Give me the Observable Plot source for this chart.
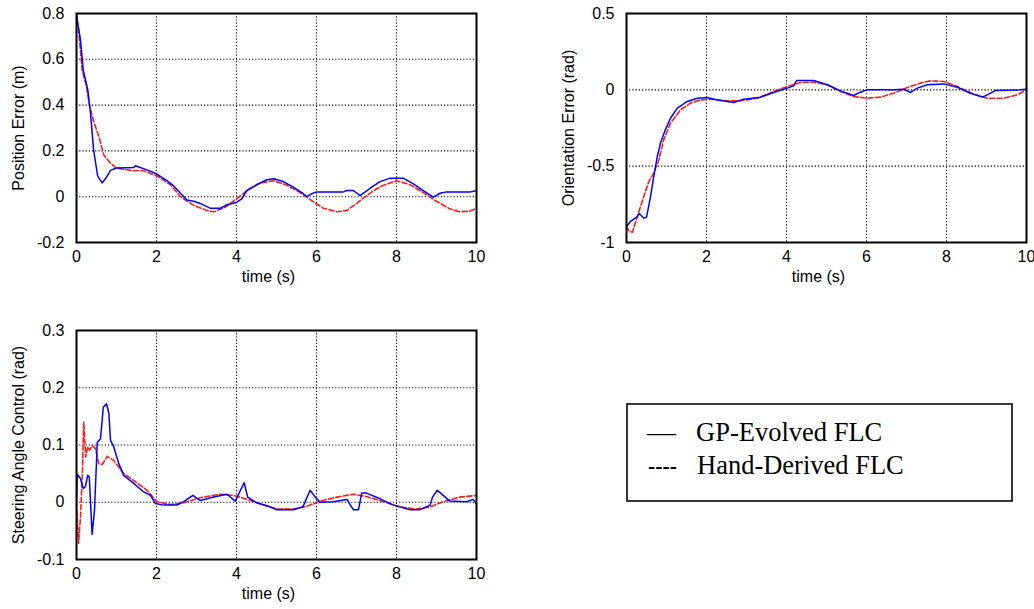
<!DOCTYPE html>
<html>
<head>
<meta charset="utf-8">
<script src="https://cdn.jsdelivr.net/npm/d3@7"></script>
<script src="https://cdn.jsdelivr.net/npm/@observablehq/plot@0.6"></script>
<style>
  html, body { margin: 0; padding: 0; background: #fff; }
  #wrap { position: relative; width: 1034px; height: 609px; overflow: hidden; }
  .panel { position: absolute; }
  .panel svg { display: block; }
</style>
</head>
<body>
<div id="wrap">
  <div class="panel" id="p1" style="left:0px;top:0px"></div>
  <div class="panel" id="p2" style="left:540px;top:0px"></div>
  <div class="panel" id="p3" style="left:0px;top:310px"></div>
  <svg class="panel" id="legend" style="left:620px;top:398px" width="400" height="110"></svg>
</div>
<script>
// ---------- data (time in s, value) ----------
const timeTicks = [0, 2, 4, 6, 8, 10];

const posTicks = [-0.2, 0, 0.2, 0.4, 0.6, 0.8];
const posGP = [[0,0.79],[0.1,0.685],[0.17,0.55],[0.28,0.47],[0.35,0.365],[0.43,0.2],[0.53,0.09],[0.64,0.06],[0.75,0.085],[0.85,0.115],[1.0,0.125],[1.43,0.127],[1.47,0.135],[1.76,0.117],[2.0,0.1],[2.26,0.07],[2.43,0.047],[2.6,0.015],[2.76,-0.014],[2.93,-0.02],[3.1,-0.03],[3.34,-0.05],[3.6,-0.05],[3.76,-0.035],[4.0,-0.025],[4.13,-0.01],[4.26,0.027],[4.5,0.052],[4.76,0.074],[4.93,0.078],[5.17,0.066],[5.42,0.042],[5.67,0.013],[5.76,0.0],[5.88,0.013],[6.0,0.021],[6.67,0.021],[6.76,0.027],[6.92,0.027],[7.09,0.005],[7.21,0.02],[7.34,0.037],[7.59,0.066],[7.84,0.081],[8.17,0.081],[8.42,0.056],[8.67,0.027],[8.92,-0.002],[9.09,0.015],[9.25,0.021],[9.83,0.021],[10,0.026]];
const posHD = [[0,0.8],[0.06,0.714],[0.14,0.554],[0.25,0.48],[0.33,0.394],[0.43,0.328],[0.56,0.263],[0.68,0.183],[0.85,0.146],[1.0,0.125],[1.43,0.113],[1.68,0.113],[2.0,0.092],[2.35,0.052],[2.6,0.0],[2.93,-0.038],[3.26,-0.06],[3.43,-0.066],[3.68,-0.05],[4.0,-0.01],[4.26,0.027],[4.59,0.06],[4.93,0.07],[5.26,0.05],[5.59,0.018],[5.92,-0.022],[6.17,-0.05],[6.5,-0.066],[6.76,-0.06],[7.0,-0.03],[7.25,0.005],[7.59,0.044],[8.0,0.07],[8.34,0.052],[8.67,0.018],[9.0,-0.02],[9.33,-0.053],[9.58,-0.066],[9.83,-0.063],[10,-0.05]];

const oriTicks = [-1, -0.5, 0, 0.5];
const oriGP = [[0,-0.895],[0.1,-0.862],[0.27,-0.83],[0.32,-0.81],[0.39,-0.83],[0.43,-0.84],[0.5,-0.835],[0.6,-0.7],[0.68,-0.57],[0.77,-0.437],[0.85,-0.35],[0.97,-0.262],[1.1,-0.186],[1.27,-0.12],[1.52,-0.076],[1.77,-0.055],[2.02,-0.05],[2.27,-0.066],[2.68,-0.083],[2.93,-0.061],[3.35,-0.048],[3.68,-0.017],[4.02,0.011],[4.18,0.026],[4.25,0.061],[4.68,0.061],[5.02,0.033],[5.35,-0.007],[5.68,-0.037],[5.83,-0.017],[6.02,0],[6.68,0],[6.93,0.004],[7.1,-0.017],[7.27,0.011],[7.52,0.033],[7.93,0.039],[8.27,0.017],[8.6,-0.022],[8.9,-0.048],[9.02,-0.033],[9.23,-0.004],[9.85,0],[10,0.004]];
const oriHD = [[0,-0.895],[0.07,-0.928],[0.15,-0.932],[0.27,-0.83],[0.43,-0.7],[0.56,-0.6],[0.68,-0.546],[0.81,-0.458],[0.93,-0.328],[1.1,-0.218],[1.35,-0.131],[1.6,-0.087],[1.85,-0.066],[2.1,-0.061],[2.52,-0.072],[2.85,-0.072],[3.27,-0.055],[3.68,-0.011],[4.02,0.022],[4.35,0.048],[4.68,0.05],[5.02,0.033],[5.35,-0.011],[5.68,-0.044],[6.02,-0.055],[6.35,-0.048],[6.68,-0.022],[7.02,0.015],[7.35,0.044],[7.6,0.059],[7.93,0.055],[8.27,0.022],[8.68,-0.028],[9.02,-0.055],[9.43,-0.055],[9.77,-0.033],[10,0]];

const steerTicks = [-0.1, 0, 0.1, 0.2, 0.3];
const steerGP = [[0,0],[0.02,0.049],[0.1,0.041],[0.17,0.024],[0.22,0.027],[0.28,0.047],[0.32,0.044],[0.39,-0.056],[0.45,-0.014],[0.52,0.105],[0.6,0.111],[0.67,0.166],[0.75,0.172],[0.81,0.155],[0.85,0.108],[0.93,0.097],[1.06,0.067],[1.18,0.047],[1.43,0.033],[1.68,0.018],[1.85,0.012],[1.97,-0.002],[2.18,-0.005],[2.51,-0.005],[2.68,0.001],[2.91,0.012],[3.09,0.003],[3.43,0.009],[3.76,0.014],[3.97,0.002],[4.08,0.018],[4.19,0.034],[4.28,0.009],[4.51,-0.001],[4.84,-0.008],[5.01,-0.013],[5.42,-0.013],[5.66,-0.008],[5.84,0.021],[5.97,0.009],[6.09,0],[6.42,0.001],[6.76,0.005],[6.92,-0.013],[7.05,-0.013],[7.13,0.016],[7.25,0.016],[7.59,0.006],[7.92,-0.005],[8.34,-0.013],[8.59,-0.013],[8.84,-0.005],[8.9,0.009],[9.02,0.021],[9.17,0.012],[9.33,0.002],[9.75,0.001],[9.92,0.005],[10,-0.003]];
const steerHD = [[0,0],[0.03,-0.043],[0.05,-0.072],[0.1,-0.026],[0.15,0.056],[0.18,0.14],[0.23,0.079],[0.28,0.097],[0.33,0.091],[0.39,0.099],[0.47,0.094],[0.56,0.067],[0.64,0.066],[0.77,0.08],[0.93,0.073],[1.18,0.05],[1.43,0.038],[1.76,0.021],[2.01,0.001],[2.35,-0.004],[2.68,-0.001],[3.09,0.008],[3.59,0.014],[3.93,0.012],[4.26,0.005],[4.59,-0.003],[5.01,-0.012],[5.42,-0.012],[5.76,-0.007],[6.09,0.002],[6.51,0.009],[6.92,0.014],[7.25,0.01],[7.67,0.001],[8.09,-0.008],[8.5,-0.012],[8.84,-0.008],[9.17,0.001],[9.58,0.009],[10,0.012]];

const legendLabels = ["GP-Evolved FLC", "Hand-Derived FLC"];
const legendSymbols = ["\u2014", "----"];

// ---------- drawing ----------
function panel({gp, hd, ticks, ylabel, width, height, mLeft, mRight, mTop, mBottom}) {
  const dom = [ticks[0], ticks[ticks.length - 1]];
  const inner = ticks.slice(1, -1);
  return Plot.plot({
    width, height,
    marginLeft: mLeft, marginRight: mRight, marginTop: mTop, marginBottom: mBottom,
    style: {fontFamily: "'Liberation Sans', Arial, sans-serif", fontSize: "16px", color: "black", background: "white"},
    x: {domain: [0, 10]},
    y: {domain: dom},
    marks: [
      Plot.gridX([2, 4, 6, 8], {stroke: "black", strokeOpacity: 1, strokeWidth: 1.1, strokeDasharray: "1.2,2"}),
      Plot.gridY(inner, {stroke: "black", strokeOpacity: 1, strokeWidth: 1.1, strokeDasharray: "1.2,2"}),
      Plot.axisX({ticks: timeTicks, tickSize: 0, tickPadding: 8, label: null, tickFormat: d => String(d), fontSize: 16}),
      Plot.axisY({ticks: ticks, tickSize: 0, tickPadding: 12, label: null, tickFormat: d => (d < 0 ? "-" : "") + String(Math.abs(d)), fontSize: 16}),
      Plot.line(hd, {x: d => d[0], y: d => d[1], stroke: "#ff1a1a", strokeWidth: 1.6, strokeDasharray: "5,2.5", clip: true}),
      Plot.line(gp, {x: d => d[0], y: d => d[1], stroke: "#0000ff", strokeWidth: 1.5, clip: true}),
      Plot.frame({stroke: "black", strokeWidth: 2}),
      Plot.text(["time (s)"], {frameAnchor: "bottom", dy: 39, dx: -8, fontSize: 16, fill: "black", textAnchor: "middle"}),
      Plot.text([ylabel], {frameAnchor: "left", dx: -58, rotate: -90, fontSize: 16, fill: "black", textAnchor: "middle"})
    ]
  });
}

document.getElementById("p1").append(panel({gp: posGP, hd: posHD, ticks: posTicks, ylabel: "Position Error (m)",
  width: 500, height: 300, mLeft: 76, mRight: 24, mTop: 13, mBottom: 58}));
document.getElementById("p2").append(panel({gp: oriGP, hd: oriHD, ticks: oriTicks, ylabel: "Orientation Error (rad)",
  width: 494, height: 300, mLeft: 86, mRight: 8, mTop: 13, mBottom: 58}));
document.getElementById("p3").append(panel({gp: steerGP, hd: steerHD, ticks: steerTicks, ylabel: "Steering Angle Control (rad)",
  width: 500, height: 299, mLeft: 76, mRight: 24, mTop: 20, mBottom: 50}));

// legend (offsets relative to svg at 620,398)
const lg = d3.select("#legend");
lg.append("rect").attr("x", 7).attr("y", 6).attr("width", 385).attr("height", 97)
  .attr("fill", "white").attr("stroke", "#222").attr("stroke-width", 1.8);
const rowsY = [43, 76];
legendLabels.forEach((lab, i) => {
  lg.append("text").attr("x", i === 0 ? 27 : 28).attr("y", rowsY[i])
    .attr("font-family", "'Liberation Serif', 'Times New Roman', serif").attr("font-size", 26)
    .attr("textLength", 29).attr("lengthAdjust", "spacingAndGlyphs")
    .text(legendSymbols[i]);
  lg.append("text").attr("x", i === 0 ? 76 : 77).attr("y", rowsY[i])
    .attr("font-family", "'Liberation Serif', 'Times New Roman', serif").attr("font-size", 26.5)
    .text(lab);
});
</script>
</body>
</html>
